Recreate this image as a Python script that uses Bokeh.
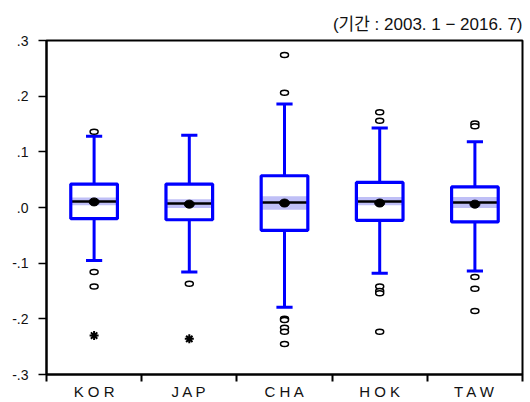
from bokeh.plotting import figure
from bokeh.models import FixedTicker, Range1d, Title
from bokeh.embed import file_html
from bokeh.resources import INLINE

# ---- data ----
categories = ["KOR", "JAP", "CHA", "HOK", "TAW"]
tick_labels = ["K O R", "J A P", "C H A", "H O K", "T A W"]
q1 = [-0.020, -0.022, -0.041, -0.023, -0.026]
q3 = [0.042, 0.042, 0.057, 0.045, 0.037]
median = [0.011, 0.007, 0.009, 0.011, 0.009]
ci_low = [0.004, -0.001, -0.004, 0.004, -0.001]
ci_high = [0.018, 0.015, 0.020, 0.019, 0.019]
mean = [0.010, 0.006, 0.008, 0.008, 0.006]
whisker_low = [-0.095, -0.116, -0.179, -0.118, -0.114]
whisker_high = [0.128, 0.130, 0.186, 0.143, 0.118]

outlier_cat = ["KOR", "KOR", "KOR", "JAP",
               "CHA", "CHA", "CHA", "CHA", "CHA", "CHA", "CHA",
               "HOK", "HOK", "HOK", "HOK", "HOK", "HOK",
               "TAW", "TAW", "TAW", "TAW", "TAW"]
outlier_val = [0.136, -0.116, -0.142, -0.137,
               0.274, 0.206, -0.200, -0.202, -0.216, -0.223, -0.245,
               0.171, 0.156, -0.142, -0.150, -0.154, -0.223,
               0.151, 0.146, -0.125, -0.146, -0.186]
extreme_cat = ["KOR", "JAP"]
extreme_val = [-0.230, -0.236]

y_ticks = [-0.3, -0.2, -0.1, 0.0, 0.1, 0.2, 0.3]
y_tick_labels = ["-.3", "-.2", "-.1", ".0", ".1", ".2", ".3"]
subtitle = "(기간 : 2003. 1 − 2016. 7)"

# ---- derived positions ----
pos = {c: i + 0.5 for i, c in enumerate(categories)}
xc = [pos[c] for c in categories]
hw = 0.245
cap = 0.085
left = [x - hw for x in xc]
right = [x + hw for x in xc]

BLUE = "#0000FF"
BAND = "#BFBFF6"
FONT = "Liberation Sans"

p = figure(width=530, height=402, output_backend="svg", toolbar_location=None,
           x_range=Range1d(0, 5), y_range=Range1d(-0.3, 0.3),
           min_border_left=46, min_border_right=8, min_border_top=40,
           min_border_bottom=26)
p.grid.visible = False
p.outline_line_color = "black"
p.outline_line_width = 2
p.background_fill_color = "white"
p.border_fill_color = "white"

# whiskers
p.segment(x0=xc, y0=q3, x1=xc, y1=whisker_high, line_color=BLUE, line_width=3)
p.segment(x0=xc, y0=q1, x1=xc, y1=whisker_low, line_color=BLUE, line_width=3)
p.segment(x0=[x - cap for x in xc], y0=whisker_high, x1=[x + cap for x in xc],
          y1=whisker_high, line_color=BLUE, line_width=3)
p.segment(x0=[x - cap for x in xc], y0=whisker_low, x1=[x + cap for x in xc],
          y1=whisker_low, line_color=BLUE, line_width=3)

# boxes
p.quad(left=left, right=right, bottom=q1, top=q3, fill_color="white", line_color=None)
p.quad(left=left, right=right, bottom=ci_low, top=ci_high, fill_color=BAND, line_color=None)
p.segment(x0=left, y0=median, x1=right, y1=median, line_color="black", line_width=2.5)
p.quad(left=left, right=right, bottom=q1, top=q3, fill_color=None,
       line_color=BLUE, line_width=3.2)
p.ellipse(x=xc, y=mean, width=10, height=8, width_units="screen", height_units="screen",
          fill_color="black", line_color="black")

# outliers
p.ellipse(x=[pos[c] for c in outlier_cat], y=outlier_val, width=8, height=5,
          width_units="screen", height_units="screen",
          fill_color="white", line_color="black", line_width=1.5)
p.scatter(x=[pos[c] for c in extreme_cat], y=extreme_val, marker="asterisk",
          size=9, line_color="black", line_width=2)

# axes
p.xaxis.ticker = FixedTicker(ticks=xc, minor_ticks=[0, 1, 2, 3, 4, 5])
p.xaxis.major_label_overrides = {x: l for x, l in zip(xc, tick_labels)}
p.xaxis.major_tick_out = 0
p.xaxis.major_tick_in = 0
p.xaxis.minor_tick_out = 7
p.xaxis.minor_tick_in = 0
p.xaxis.minor_tick_line_width = 2
p.xaxis.axis_line_width = 2
p.xaxis.major_label_text_font = FONT
p.xaxis.major_label_text_font_size = "15px"
p.xaxis.major_label_text_color = "#111111"
p.xaxis.major_label_standoff = 1

p.yaxis.ticker = FixedTicker(ticks=y_ticks, minor_ticks=[])
p.yaxis.major_label_overrides = {t: l for t, l in zip(y_ticks, y_tick_labels)}
p.yaxis.major_tick_out = 8
p.yaxis.major_tick_in = 0
p.yaxis.major_tick_line_width = 1.5
p.yaxis.axis_line_width = 2
p.yaxis.major_label_text_font = FONT
p.yaxis.major_label_text_font_size = "14px"
p.yaxis.major_label_text_color = "#111111"
p.yaxis.major_label_standoff = 10

p.title = Title(text=subtitle, align="right",
                text_font="'Liberation Sans', 'Noto Sans CJK KR'",
                text_font_size="17px", text_font_style="normal",
                text_color="#111111", standoff=13)

open("out.html", "w").write(file_html(p, INLINE))
